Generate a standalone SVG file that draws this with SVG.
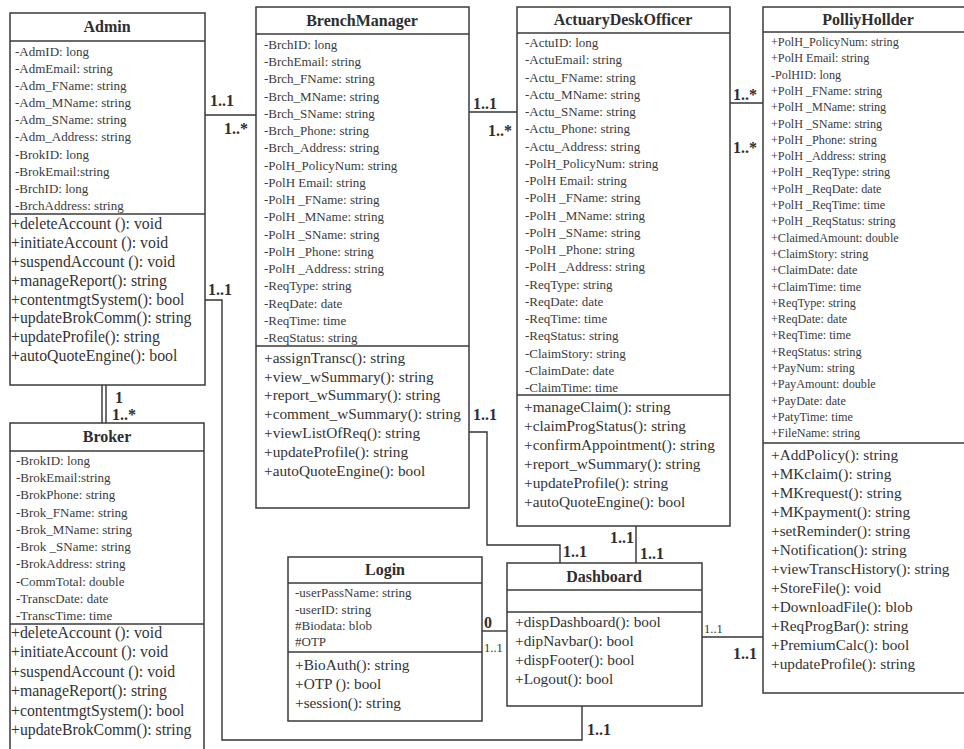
<svg xmlns="http://www.w3.org/2000/svg" width="964" height="749" viewBox="0 0 964 749">
  <style>
    .frame { fill: #ffffff; stroke: #3a3a3a; stroke-width: 1.5; }
    .sep { stroke: #3a3a3a; stroke-width: 1.5; }
    .title { font-family: "Liberation Serif", "Times New Roman", serif; font-weight: bold; font-size: 16px; fill: #2e2e2e; text-anchor: middle; }
    .attr { font-family: "Liberation Serif", "Times New Roman", serif; font-size: 13px; fill: #3a3a3a; }
    .attr-s { font-family: "Liberation Serif", "Times New Roman", serif; font-size: 12.2px; fill: #3a3a3a; }
    .meth { font-family: "Liberation Serif", "Times New Roman", serif; font-size: 15.3px; fill: #333333; }
    .meth-w { font-family: "Liberation Serif", "Times New Roman", serif; font-size: 15.8px; fill: #333333; }
    .conn { fill: none; stroke: #333333; stroke-width: 1.4; }
    .mult { font-family: "Liberation Serif", "Times New Roman", serif; font-weight: bold; font-size: 16px; fill: #2e2e2e; }
    .mult-s { font-family: "Liberation Serif", "Times New Roman", serif; font-size: 12.5px; fill: #333333; }
  </style>
  <rect width="964" height="749" fill="#ffffff"/>

  <!-- associations -->
  <g id="connectors">
    <line class="conn" x1="205" y1="115" x2="256" y2="115"/>
    <line class="conn" x1="469" y1="112" x2="517" y2="112"/>
    <line class="conn" x1="730" y1="103" x2="763" y2="103"/>
    <polyline class="conn" points="205,300 222,300 222,740 582,740 582,706"/>
    <polyline class="conn" points="469,432 487,432 487,545 560,545 560,563"/>
    <line class="conn" x1="636" y1="526" x2="636" y2="563"/>
    <line class="conn" x1="482" y1="631" x2="507" y2="631"/>
    <line class="conn" x1="702" y1="637" x2="763" y2="637"/>
    <line class="conn" x1="102" y1="385" x2="102" y2="423"/>
    <line class="conn" x1="106" y1="385" x2="106" y2="423"/>

    <text class="mult" x="210" y="106">1..1</text>
    <text class="mult" x="224" y="134">1..*</text>
    <text class="mult" x="473" y="109">1..1</text>
    <text class="mult" x="488" y="136">1..*</text>
    <text class="mult" x="733" y="100">1..*</text>
    <text class="mult" x="733" y="153">1..*</text>
    <text class="mult" x="208" y="295">1..1</text>
    <text class="mult" x="115" y="403">1</text>
    <text class="mult" x="112" y="420">1..*</text>
    <text class="mult" x="473" y="420">1..1</text>
    <text class="mult" x="563" y="557">1..1</text>
    <text class="mult" x="610" y="543">1..1</text>
    <text class="mult" x="640" y="559">1..1</text>
    <text class="mult" x="484" y="628">0</text>
    <text class="mult-s" x="484" y="652">1..1</text>
    <text class="mult-s" x="704" y="633">1..1</text>
    <text class="mult" x="733" y="659">1..1</text>
    <text class="mult" x="587" y="735">1..1</text>
  </g>

  <!-- Admin -->
  <g id="admin">
    <rect class="frame" x="10" y="13" width="195" height="372"/>
    <line class="sep" x1="10" y1="41" x2="205" y2="41"/>
    <line class="sep" x1="10" y1="214" x2="205" y2="214"/>
    <text class="title" x="107" y="32">Admin</text>
    <text class="attr" x="15" y="56">-AdmID: long</text>
    <text class="attr" x="15" y="73">-AdmEmail: string</text>
    <text class="attr" x="15" y="90">-Adm_FName: string</text>
    <text class="attr" x="15" y="107">-Adm_MName: string</text>
    <text class="attr" x="15" y="124">-Adm_SName: string</text>
    <text class="attr" x="15" y="141">-Adm_Address: string</text>
    <text class="attr" x="15" y="159">-BrokID: long</text>
    <text class="attr" x="15" y="176">-BrokEmail:string</text>
    <text class="attr" x="15" y="193">-BrchID: long</text>
    <text class="attr" x="15" y="210">-BrchAddress: string</text>
    <text class="meth-w" x="11" y="229">+deleteAccount (): void</text>
    <text class="meth-w" x="11" y="248">+initiateAccount (): void</text>
    <text class="meth-w" x="11" y="267">+suspendAccount (): void</text>
    <text class="meth-w" x="11" y="286">+manageReport(): string</text>
    <text class="meth-w" x="11" y="305">+contentmgtSystem(): bool</text>
    <text class="meth-w" x="11" y="323">+updateBrokComm(): string</text>
    <text class="meth-w" x="11" y="342">+updateProfile(): string</text>
    <text class="meth-w" x="11" y="361">+autoQuoteEngine(): bool</text>
  </g>

  <!-- Broker -->
  <g id="broker">
    <rect class="frame" x="10" y="423" width="194" height="340"/>
    <line class="sep" x1="10" y1="451" x2="204" y2="451"/>
    <line class="sep" x1="10" y1="624" x2="204" y2="624"/>
    <text class="title" x="107" y="442">Broker</text>
    <text class="attr" x="16" y="465">-BrokID: long</text>
    <text class="attr" x="16" y="482">-BrokEmail:string</text>
    <text class="attr" x="16" y="499">-BrokPhone: string</text>
    <text class="attr" x="16" y="517">-Brok_FName: string</text>
    <text class="attr" x="16" y="534">-Brok_MName: string</text>
    <text class="attr" x="16" y="551">-Brok _SName: string</text>
    <text class="attr" x="16" y="568">-BrokAddress: string</text>
    <text class="attr" x="16" y="586">-CommTotal: double</text>
    <text class="attr" x="16" y="603">-TranscDate: date</text>
    <text class="attr" x="16" y="620">-TranscTime: time</text>
    <text class="meth-w" x="11" y="638">+deleteAccount (): void</text>
    <text class="meth-w" x="11" y="657">+initiateAccount (): void</text>
    <text class="meth-w" x="11" y="677">+suspendAccount (): void</text>
    <text class="meth-w" x="11" y="696">+manageReport(): string</text>
    <text class="meth-w" x="11" y="716">+contentmgtSystem(): bool</text>
    <text class="meth-w" x="11" y="735">+updateBrokComm(): string</text>
  </g>

  <!-- BrenchManager -->
  <g id="brench-manager">
    <rect class="frame" x="256" y="7" width="213" height="501"/>
    <line class="sep" x1="256" y1="34" x2="469" y2="34"/>
    <line class="sep" x1="256" y1="346" x2="469" y2="346"/>
    <text class="title" x="362" y="26">BrenchManager</text>
    <text class="attr" x="264" y="49">-BrchID: long</text>
    <text class="attr" x="264" y="66">-BrchEmail: string</text>
    <text class="attr" x="264" y="83">-Brch_FName: string</text>
    <text class="attr" x="264" y="101">-Brch_MName: string</text>
    <text class="attr" x="264" y="118">-Brch_SName: string</text>
    <text class="attr" x="264" y="135">-Brch_Phone: string</text>
    <text class="attr" x="264" y="152">-Brch_Address: string</text>
    <text class="attr" x="264" y="170">-PolH_PolicyNum: string</text>
    <text class="attr" x="264" y="187">-PolH Email: string</text>
    <text class="attr" x="264" y="204">-PolH _FName: string</text>
    <text class="attr" x="264" y="221">-PolH _MName: string</text>
    <text class="attr" x="264" y="239">-PolH _SName: string</text>
    <text class="attr" x="264" y="256">-PolH _Phone: string</text>
    <text class="attr" x="264" y="273">-PolH _Address: string</text>
    <text class="attr" x="264" y="290">-ReqType: string</text>
    <text class="attr" x="264" y="308">-ReqDate: date</text>
    <text class="attr" x="264" y="325">-ReqTime: time</text>
    <text class="attr" x="264" y="342">-ReqStatus: string</text>
    <text class="meth" x="264" y="363">+assignTransc(): string</text>
    <text class="meth" x="264" y="382">+view_wSummary(): string</text>
    <text class="meth" x="264" y="400">+report_wSummary(): string</text>
    <text class="meth" x="264" y="419">+comment_wSummary(): string</text>
    <text class="meth" x="264" y="438">+viewListOfReq(): string</text>
    <text class="meth" x="264" y="457">+updateProfile(): string</text>
    <text class="meth" x="264" y="476">+autoQuoteEngine(): bool</text>
  </g>

  <!-- ActuaryDeskOfficer -->
  <g id="actuary-desk-officer">
    <rect class="frame" x="517" y="7" width="213" height="519"/>
    <line class="sep" x1="517" y1="33" x2="730" y2="33"/>
    <line class="sep" x1="517" y1="395" x2="730" y2="395"/>
    <text class="title" x="623" y="25">ActuaryDeskOfficer</text>
    <text class="attr" x="525" y="47">-ActuID: long</text>
    <text class="attr" x="525" y="64">-ActuEmail: string</text>
    <text class="attr" x="525" y="82">-Actu_FName: string</text>
    <text class="attr" x="525" y="99">-Actu_MName: string</text>
    <text class="attr" x="525" y="116">-Actu_SName: string</text>
    <text class="attr" x="525" y="133">-Actu_Phone: string</text>
    <text class="attr" x="525" y="151">-Actu_Address: string</text>
    <text class="attr" x="525" y="168">-PolH_PolicyNum: string</text>
    <text class="attr" x="525" y="185">-PolH Email: string</text>
    <text class="attr" x="525" y="202">-PolH _FName: string</text>
    <text class="attr" x="525" y="220">-PolH _MName: string</text>
    <text class="attr" x="525" y="237">-PolH _SName: string</text>
    <text class="attr" x="525" y="254">-PolH _Phone: string</text>
    <text class="attr" x="525" y="271">-PolH _Address: string</text>
    <text class="attr" x="525" y="289">-ReqType: string</text>
    <text class="attr" x="525" y="306">-ReqDate: date</text>
    <text class="attr" x="525" y="323">-ReqTime: time</text>
    <text class="attr" x="525" y="340">-ReqStatus: string</text>
    <text class="attr" x="525" y="358">-ClaimStory: string</text>
    <text class="attr" x="525" y="375">-ClaimDate: date</text>
    <text class="attr" x="525" y="392">-ClaimTime: time</text>
    <text class="meth" x="524" y="412">+manageClaim(): string</text>
    <text class="meth" x="524" y="431">+claimProgStatus(): string</text>
    <text class="meth" x="524" y="450">+confirmAppointment(): string</text>
    <text class="meth" x="524" y="469">+report_wSummary(): string</text>
    <text class="meth" x="524" y="488">+updateProfile(): string</text>
    <text class="meth" x="524" y="507">+autoQuoteEngine(): bool</text>
  </g>

  <!-- PolliyHollder -->
  <g id="polliy-hollder">
    <rect class="frame" x="763" y="7" width="210" height="686"/>
    <line class="sep" x1="763" y1="32" x2="973" y2="32"/>
    <line class="sep" x1="763" y1="443" x2="973" y2="443"/>
    <text class="title" x="868" y="25">PolliyHollder</text>
    <text class="attr-s" x="771" y="46">+PolH_PolicyNum: string</text>
    <text class="attr-s" x="771" y="62">+PolH Email: string</text>
    <text class="attr-s" x="771" y="79">-PolHID: long</text>
    <text class="attr-s" x="771" y="95">+PolH _FName: string</text>
    <text class="attr-s" x="771" y="111">+PolH _MName: string</text>
    <text class="attr-s" x="771" y="128">+PolH _SName: string</text>
    <text class="attr-s" x="771" y="144">+PolH _Phone: string</text>
    <text class="attr-s" x="771" y="160">+PolH _Address: string</text>
    <text class="attr-s" x="771" y="176">+PolH _ReqType: string</text>
    <text class="attr-s" x="771" y="193">+PolH _ReqDate: date</text>
    <text class="attr-s" x="771" y="209">+PolH _ReqTime: time</text>
    <text class="attr-s" x="771" y="225">+PolH _ReqStatus: string</text>
    <text class="attr-s" x="771" y="242">+ClaimedAmount: double</text>
    <text class="attr-s" x="771" y="258">+ClaimStory: string</text>
    <text class="attr-s" x="771" y="274">+ClaimDate: date</text>
    <text class="attr-s" x="771" y="291">+ClaimTime: time</text>
    <text class="attr-s" x="771" y="307">+ReqType: string</text>
    <text class="attr-s" x="771" y="323">+ReqDate: date</text>
    <text class="attr-s" x="771" y="339">+ReqTime: time</text>
    <text class="attr-s" x="771" y="356">+ReqStatus: string</text>
    <text class="attr-s" x="771" y="372">+PayNum: string</text>
    <text class="attr-s" x="771" y="388">+PayAmount: double</text>
    <text class="attr-s" x="771" y="405">+PayDate: date</text>
    <text class="attr-s" x="771" y="421">+PatyTime: time</text>
    <text class="attr-s" x="771" y="437">+FileName: string</text>
    <text class="meth" x="771" y="460">+AddPolicy(): string</text>
    <text class="meth" x="771" y="479">+MKclaim(): string</text>
    <text class="meth" x="771" y="498">+MKrequest(): string</text>
    <text class="meth" x="771" y="517">+MKpayment(): string</text>
    <text class="meth" x="771" y="536">+setReminder(): string</text>
    <text class="meth" x="771" y="555">+Notification(): string</text>
    <text class="meth" x="771" y="574">+viewTranscHistory(): string</text>
    <text class="meth" x="771" y="593">+StoreFile(): void</text>
    <text class="meth" x="771" y="612">+DownloadFile(): blob</text>
    <text class="meth" x="771" y="631">+ReqProgBar(): string</text>
    <text class="meth" x="771" y="650">+PremiumCalc(): bool</text>
    <text class="meth" x="771" y="669">+updateProfile(): string</text>
  </g>

  <!-- Login -->
  <g id="login">
    <rect class="frame" x="288" y="557" width="194" height="164"/>
    <line class="sep" x1="288" y1="583" x2="482" y2="583"/>
    <line class="sep" x1="288" y1="652" x2="482" y2="652"/>
    <text class="title" x="385" y="575">Login</text>
    <text class="attr" x="295" y="597">-userPassName: string</text>
    <text class="attr" x="295" y="614">-userID: string</text>
    <text class="attr" x="295" y="630">#Biodata: blob</text>
    <text class="attr" x="295" y="646">#OTP</text>
    <text class="meth" x="295" y="670">+BioAuth(): string</text>
    <text class="meth" x="295" y="689">+OTP (): bool</text>
    <text class="meth" x="295" y="708">+session(): string</text>
  </g>

  <!-- Dashboard -->
  <g id="dashboard">
    <rect class="frame" x="507" y="563" width="195" height="143"/>
    <line class="sep" x1="507" y1="590" x2="702" y2="590"/>
    <line class="sep" x1="507" y1="612" x2="702" y2="612"/>
    <text class="title" x="604" y="582">Dashboard</text>
    <text class="meth" x="515" y="627">+dispDashboard(): bool</text>
    <text class="meth" x="515" y="646">+dipNavbar(): bool</text>
    <text class="meth" x="515" y="665">+dispFooter(): bool</text>
    <text class="meth" x="515" y="684">+Logout(): bool</text>
  </g>
</svg>
